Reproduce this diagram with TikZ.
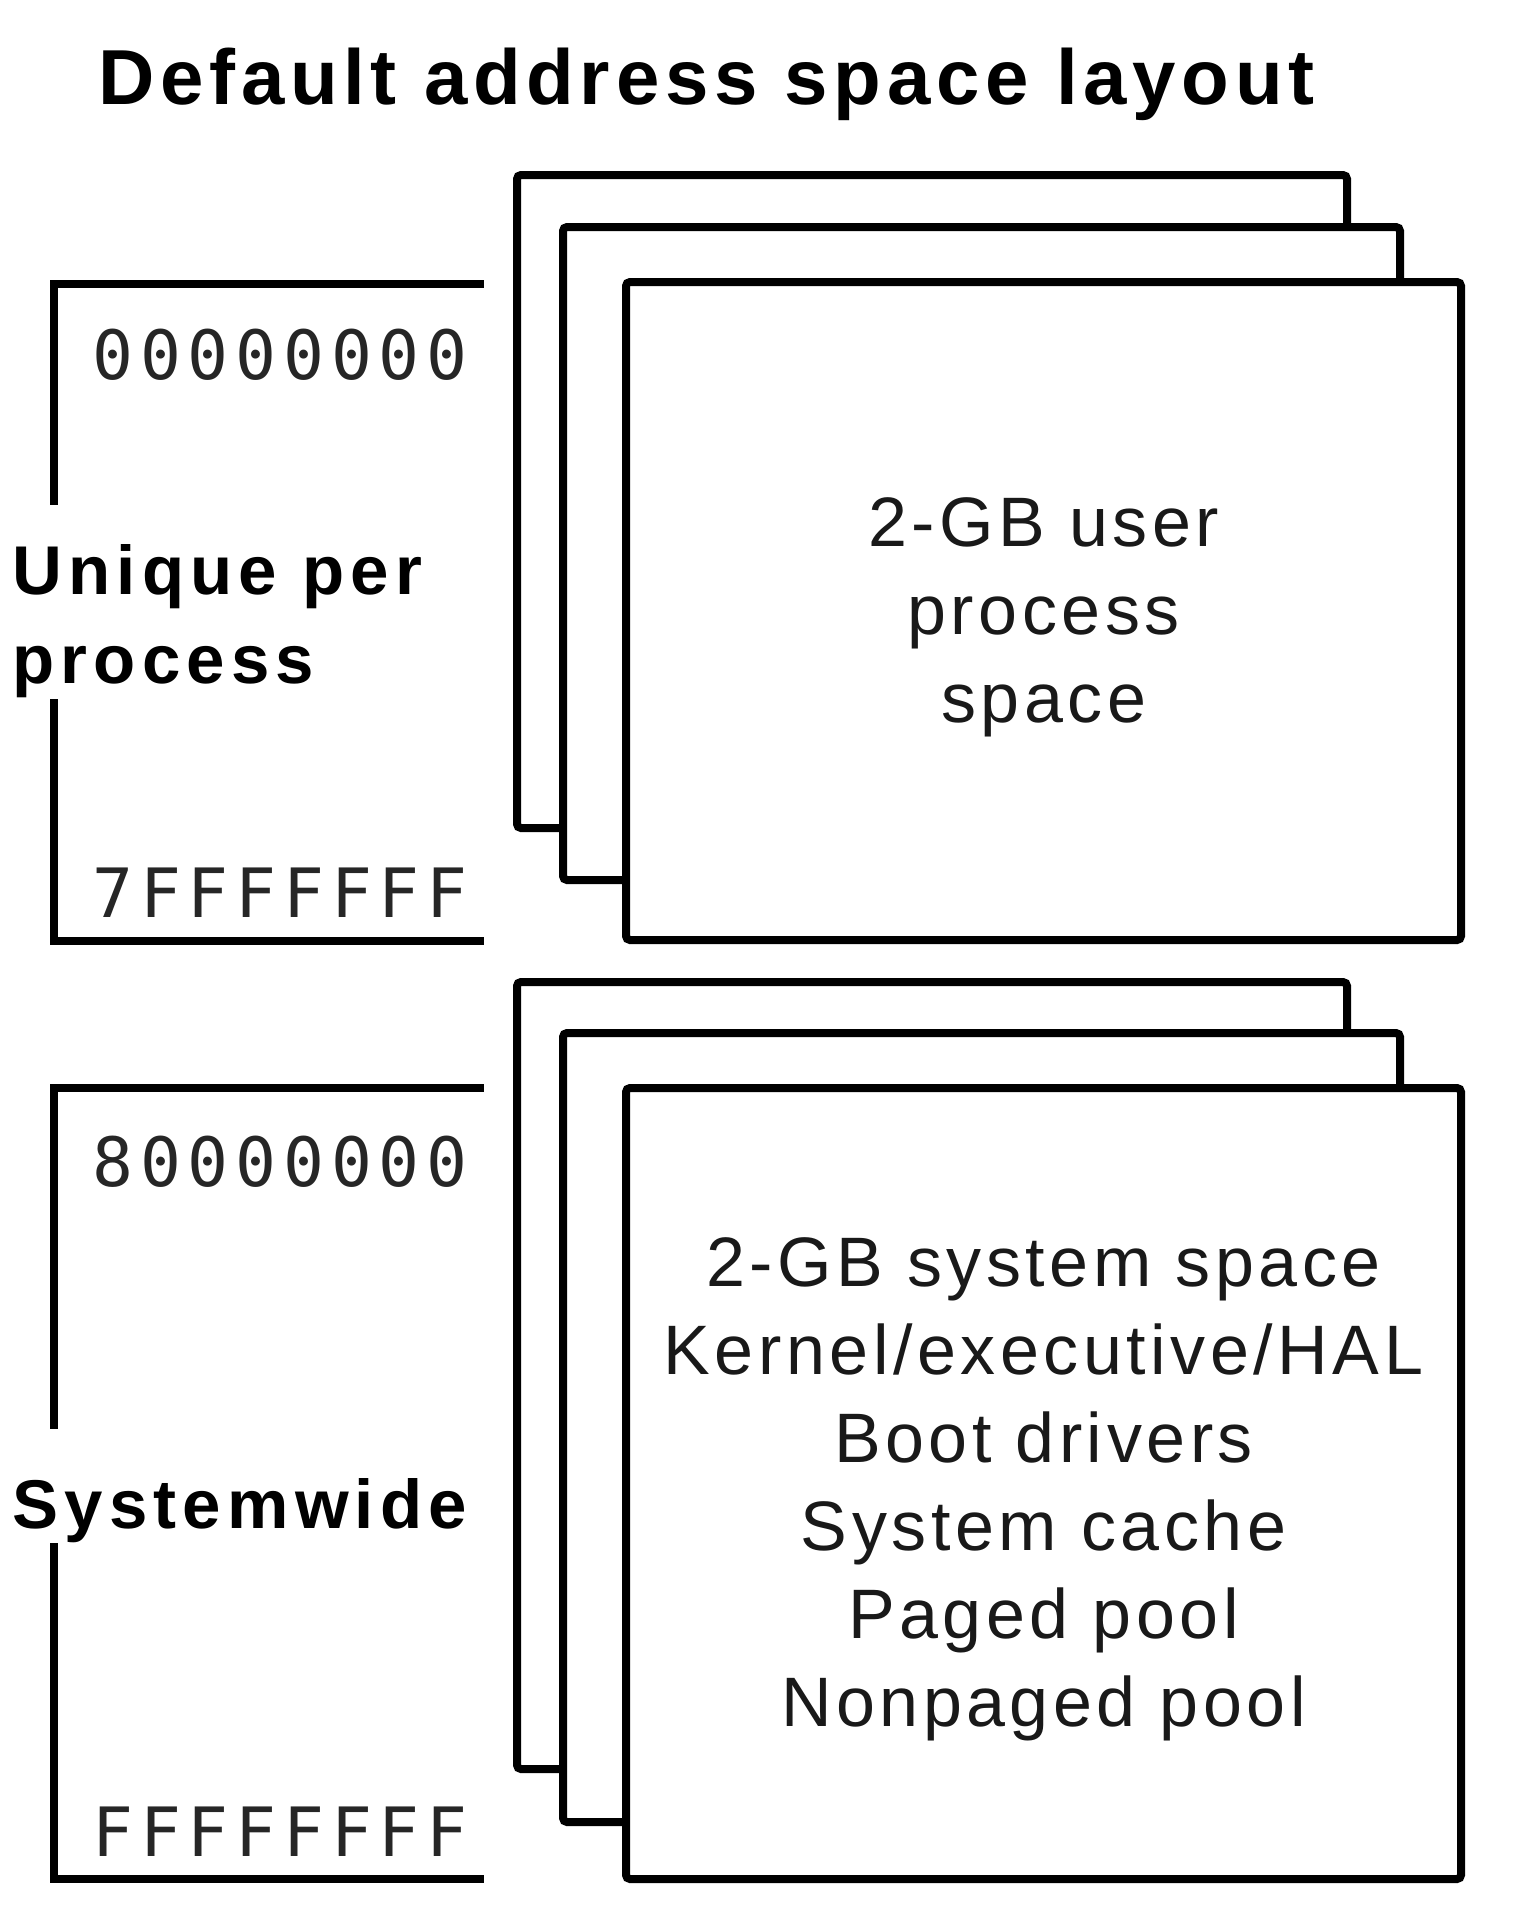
\documentclass[tikz,border=0pt]{standalone}
\usepackage{fontspec}
\setmainfont{Liberation Sans}
\newfontfamily\boxfont[LetterSpace=6.5]{Liberation Sans}
\newfontfamily\labfont[LetterSpace=9]{Liberation Sans}
\newfontfamily\ttlfont[LetterSpace=7.3]{Liberation Sans}
\newfontfamily\addrfont[LetterSpace=10]{DejaVu Sans Mono}
\begin{document}
\begin{tikzpicture}[x=0.5pt,y=-0.5pt,
  sheet/.style={draw, line width=4pt, fill=white, rounded corners=2pt, inner sep=0pt},
  boxtext/.style={font=\boxfont\fontsize{35}{44}\selectfont, align=center, text=black!90, inner sep=0pt},
  bracket/.style={line width=4pt, line cap=rect},
  addr/.style={font=\addrfont\fontsize{34}{40}\selectfont, inner sep=0pt, text=black!85},
  side/.style={font=\labfont\bfseries\fontsize{34.5}{44.5}\selectfont, inner sep=0pt, align=left},
  titlestyle/.style={font=\ttlfont\bfseries\fontsize{39}{44}\selectfont, inner sep=0pt}]
\useasboundingbox (0,0) rectangle (1520,1918);
\fill[white] (0,0) rectangle (1520,1918);

% title
\node[titlestyle, anchor=base west] (title) at (98,104) {Default address space layout};

% upper stack
\node[sheet, minimum width=415pt, minimum height=326.5pt] (u1) at (932,501.5) {};
\node[sheet, minimum width=418.5pt, minimum height=326.5pt] (u2) at (981.5,553.5) {};
\node[sheet, minimum width=417.5pt, minimum height=329pt] (u3) at (1043.5,611) {};
\node[boxtext] (u3t) at ([yshift=-3pt]u3.center) {2-GB user\\process\\space};

% lower stack
\node[sheet, minimum width=415pt, minimum height=393.5pt] (l1) at (932,1375.5) {};
\node[sheet, minimum width=418.5pt, minimum height=394.5pt] (l2) at (981.5,1427.5) {};
\node[sheet, minimum width=417.5pt, minimum height=395.5pt] (l3) at (1043.5,1483.5) {};
\node[boxtext] (l3t) at ([yshift=-3pt]l3.center)
  {2-GB system space\\Kernel/executive/HAL\\Boot drivers\\System cache\\Paged pool\\Nonpaged pool};

% upper bracket
\coordinate (ua) at (480,284);
\coordinate (ub) at (54,284);
\coordinate (uc) at (54,501);
\coordinate (ud) at (54,703);
\coordinate (ue) at (54,941);
\coordinate (uf) at (480,941);
\draw[bracket] (ua) -- (ub) -- (uc);
\draw[bracket] (ud) -- (ue) -- (uf);
\node[addr, anchor=base west] (a0) at (92,379) {00000000};
\node[addr, anchor=base west] (a1) at (92,917) {7FFFFFFF};
\node[side, anchor=west] (uniq) at (12,621) {Unique per\\process};

% lower bracket
\coordinate (la) at (480,1088);
\coordinate (lb) at (54,1088);
\coordinate (lc) at (54,1425);
\coordinate (ld) at (54,1547);
\coordinate (le) at (54,1879);
\coordinate (lf) at (480,1879);
\draw[bracket] (la) -- (lb) -- (lc);
\draw[bracket] (ld) -- (le) -- (lf);
\node[addr, anchor=base west] (a2) at (92,1186) {80000000};
\node[addr, anchor=base west] (a3) at (92,1856) {FFFFFFFF};
\node[side, anchor=base west] (sysw) at (12,1528) {Systemwide};
\end{tikzpicture}
\end{document}
